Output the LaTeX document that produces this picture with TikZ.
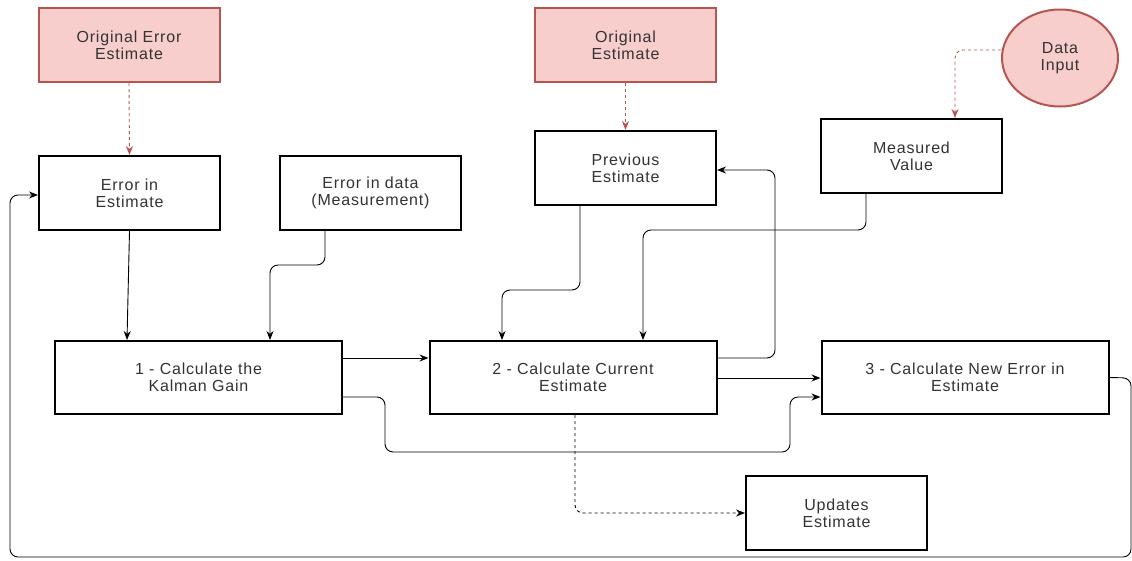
\documentclass[tikz,border=0pt]{standalone}
\usepackage{fontspec}
\setmainfont[LetterSpace=5]{Liberation Sans}
\usetikzlibrary{arrows.meta,shapes.geometric}
\definecolor{pinkfill}{HTML}{F8CECC}
\definecolor{pinkline}{HTML}{B85450}
\definecolor{txt}{HTML}{333333}
\begin{document}
\begin{tikzpicture}[x=1pt,y=-1pt,
  box/.style={draw=black,line width=2pt,fill=white,minimum width=181pt,minimum height=74pt,inner sep=0pt,align=center,text=txt,font=\fontsize{16}{17}\selectfont},
  bigbox/.style={box,minimum width=287pt,minimum height=73pt},
  pinkbox/.style={box,fill=pinkfill,draw=pinkline},
  conn/.style={draw=black,line width=0.9pt,-{Stealth[length=9pt,width=7pt]},rounded corners=8pt},
  redconn/.style={draw=pinkline,line width=0.9pt,dashed,dash pattern=on 3pt off 3pt,-{Stealth[length=9pt,width=7pt]},rounded corners=8pt},
  dconn/.style={conn,dashed,dash pattern=on 3pt off 3pt}]
\useasboundingbox (0,0) rectangle (1132,560);
\node[pinkbox] (oee) at (129,45) {Original Error\\Estimate};
\node[box] (eie) at (129.5,193) {Error in\\Estimate};
\node[box] (eid) at (370.5,193) {Error in data\\(Measurement)};
\node[pinkbox] (oe) at (625.5,45) {Original\\Estimate};
\node[box] (pe) at (625.5,168) {Previous\\Estimate};
\node[box] (mv) at (911.5,156) {Measured\\Value};
\node[ellipse,draw=pinkline,line width=2pt,fill=pinkfill,minimum width=116pt,minimum height=97pt,inner sep=0pt,align=center,text=txt,font=\fontsize{16}{17}\selectfont] (di) at (1060,58) {Data\\Input};
\node[bigbox] (b1) at (198.5,377.5) {1 - Calculate the\\Kalman Gain};
\node[bigbox] (b2) at (573,377.5) {2 - Calculate Current\\Estimate};
\node[bigbox] (b3) at (965,377.5) {3 - Calculate New Error in\\Estimate};
\node[box] (ue) at (836.5,513) {Updates\\Estimate};
% red dashed
\draw[redconn] (oee.south) -- (eie.north);
\draw[redconn] (oe.south) -- (pe.north);
\coordinate (diL) at (1002,50);
\draw[redconn] (di.west |- diL) -| (mv.north -| 955,0);
% into box 1
\draw[conn] (eie.south) -- (b1.north -| 127,0);
\draw[conn] (eid.south -| 325,0) |- (270,265) -- (b1.north -| 270,0);
% box1 -> box2, box3
\draw[conn] (b1.east |- 0,358) -- (b2.west |- 0,358);
\draw[conn] (b1.east |- 0,397) -- (385,397) -- (385,452) -- (790,452) -- (790,397) -- (b3.west |- 0,397);
% into box 2
\draw[conn] (pe.south -| 580,0) -- (580,290) -- (502,290) -- (b2.north -| 502,0);
\draw[conn] (mv.south -| 866,0) -- (866,230) -- (643,230) -- (b2.north -| 643,0);
% box2 outputs
\draw[conn] (b2.east |- 0,358) -- (775,358) -- (775,170) -- (pe.east |- 0,170);
\draw[conn] (b2.east |- 0,378) -- (b3.west |- 0,378);
\draw[dconn] (b2.south -| 575,0) |- (ue.west);
% loop back
\draw[conn] (b3.east) -- (1131,378) -- (1131,557) -- (10,557) -- (10,195) -- (eie.west |- 0,195);
\end{tikzpicture}
\end{document}
